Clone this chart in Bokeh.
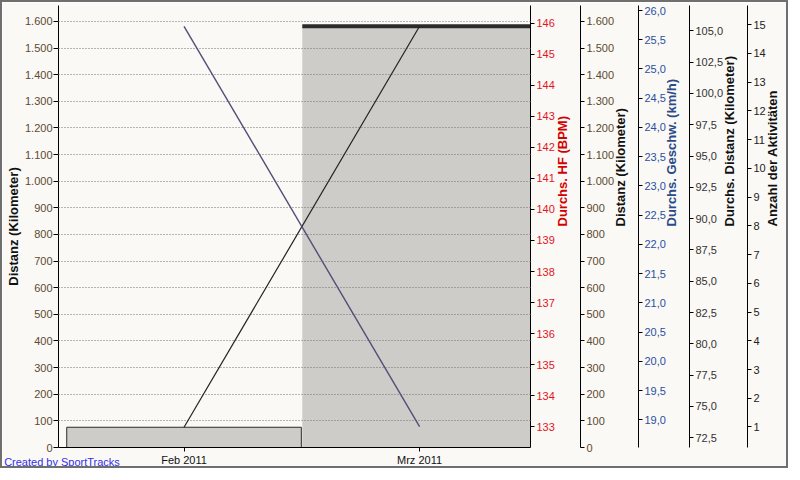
import math
from bokeh.plotting import figure
from bokeh.models import (Range1d, LinearAxis, SingleIntervalTicker, FixedTicker,
                          CustomJSTickFormatter, ColumnDataSource)
from bokeh.embed import file_html
from bokeh.resources import INLINE

# ---------------- data ----------------
months = ["Feb 2011", "Mrz 2011"]
distance_km = [76, 1582]
avg_hr_bpm = [145.9, 133.0]
credit_text = "Created by SportTracks"

# axis ranges
dist_range = (0, 1660)
hr_range = (132.33, 146.57)
speed_range = (18.525, 26.086)
avgdist_range = (71.72, 107.03)
count_range = (0.285, 15.67)
x_range = (-0.533, 1.471)

FONT = "Liberation Sans"
BG = "#faf9f5"

xs = list(range(len(months)))

p = figure(width=788, height=468, output_backend="svg", toolbar_location=None,
           x_range=Range1d(*x_range), y_range=Range1d(*dist_range),
           min_border_left=0, min_border_right=240, min_border_top=3, min_border_bottom=0,
           background_fill_color=BG, border_fill_color=BG, outline_line_color=None)
p.styles = {"border": "2px solid #6f6f6f"}

p.extra_y_ranges = {
    "hr": Range1d(*hr_range),
    "dist2": Range1d(*dist_range),
    "speed": Range1d(*speed_range),
    "avgdist": Range1d(*avgdist_range),
    "count": Range1d(*count_range),
}
p.extra_x_ranges = {"credit": Range1d(-0.0075, 1)}

thousands = CustomJSTickFormatter(code="return Math.round(tick).toString().replace(/\\B(?=(\\d{3})+(?!\\d))/g, '.');")
intfmt = CustomJSTickFormatter(code="return Math.round(tick).toString();")
dec1 = CustomJSTickFormatter(code="return tick.toFixed(1).replace('.', ',');")


def style_axis(ax, label_color, title_color, label_standoff, title_standoff):
    ax.axis_line_color = "black"
    ax.axis_line_width = 1
    ax.major_tick_line_color = "black"
    ax.major_tick_out = 4
    ax.major_tick_in = 0
    ax.minor_tick_line_color = None
    ax.major_label_text_font = FONT
    ax.major_label_text_font_size = "11px"
    ax.major_label_text_color = label_color
    ax.major_label_standoff = label_standoff
    ax.axis_label_text_font = FONT
    ax.axis_label_text_font_size = "13px"
    ax.axis_label_text_font_style = "bold"
    ax.axis_label_text_color = title_color
    ax.axis_label_text_line_height = 1.0
    ax.axis_label_standoff = title_standoff


# left axis
la = p.yaxis[0]
la.ticker = SingleIntervalTicker(interval=100)
la.formatter = thousands
la.axis_label = "Distanz (Kilometer)"
style_axis(la, "#5c4a32", "#111111", 1, 1)
la.major_tick_out = 5

# bottom axis
xa = p.xaxis[0]
xa.ticker = FixedTicker(ticks=xs)
xa.major_label_overrides = {i: m for i, m in enumerate(months)}
style_axis(xa, "#111111", "#111111", 2, 0)

# credit line in the bottom-left corner (an axis without line/ticks)
ca = LinearAxis(x_range_name="credit", ticker=FixedTicker(ticks=[0]),
                major_label_overrides={0: credit_text})
style_axis(ca, "#3030e8", "#3030e8", -13, 0)
ca.axis_line_color = None
ca.major_tick_line_color = None
ca.major_tick_out = 0
p.add_layout(ca, "below")

p.xgrid.visible = False
p.ygrid.ticker = SingleIntervalTicker(interval=100)
p.ygrid.grid_line_color = "#707070"
p.ygrid.grid_line_dash = "1 2"
p.ygrid.level = "annotation"

right_axes = [
    ("hr", "Durchs. HF (BPM)", SingleIntervalTicker(interval=1), intfmt, "#e3141e", "#d40000", 5),
    ("dist2", "Distanz (Kilometer)", SingleIntervalTicker(interval=100), thousands, "#5c4a32", "#111111", 3),
    ("speed", "Durchs. Geschw. (km/h)", SingleIntervalTicker(interval=0.5), dec1, "#2a50a0", "#2a4a8a", 3),
    ("avgdist", "Durchs. Distanz (Kilometer)", SingleIntervalTicker(interval=2.5), dec1, "#333333", "#111111", 3),
    ("count", "Anzahl der Aktivitäten", SingleIntervalTicker(interval=1), intfmt, "#222222", "#111111", 4),
]
for rname, title, ticker, fmt, lc, tc, so in right_axes:
    ax = LinearAxis(y_range_name=rname, ticker=ticker, formatter=fmt, axis_label=title)
    style_axis(ax, lc, tc, 2, so)
    ax.axis_label_orientation = math.pi / 2
    p.add_layout(ax, "right")

# bars
bar_src = ColumnDataSource(dict(x=xs, top=distance_km,
                                line_alpha=[1.0] + [0.0] * (len(xs) - 1)))
p.vbar(x="x", top="top", bottom=0, width=0.996, source=bar_src,
       fill_color="#cdccc8", line_color="#2b2b2b", line_alpha="line_alpha", line_width=1)
# highlighted top edge of the latest bar
last = len(xs) - 1
p.segment(x0=[xs[last] - 0.498], x1=[xs[last] + 0.498],
          y0=[distance_km[last]], y1=[distance_km[last]],
          line_color="#2b2b2b", line_width=4)

# lines
l1 = p.line(x=xs, y=distance_km, line_color="#222222", line_width=1.2)
l1.level = "overlay"
l2 = p.line(x=xs, y=avg_hr_bpm, y_range_name="hr", line_color="#5a4a78", line_width=1.4)
l2.level = "overlay"

open("out.html", "w").write(file_html(p, INLINE))
